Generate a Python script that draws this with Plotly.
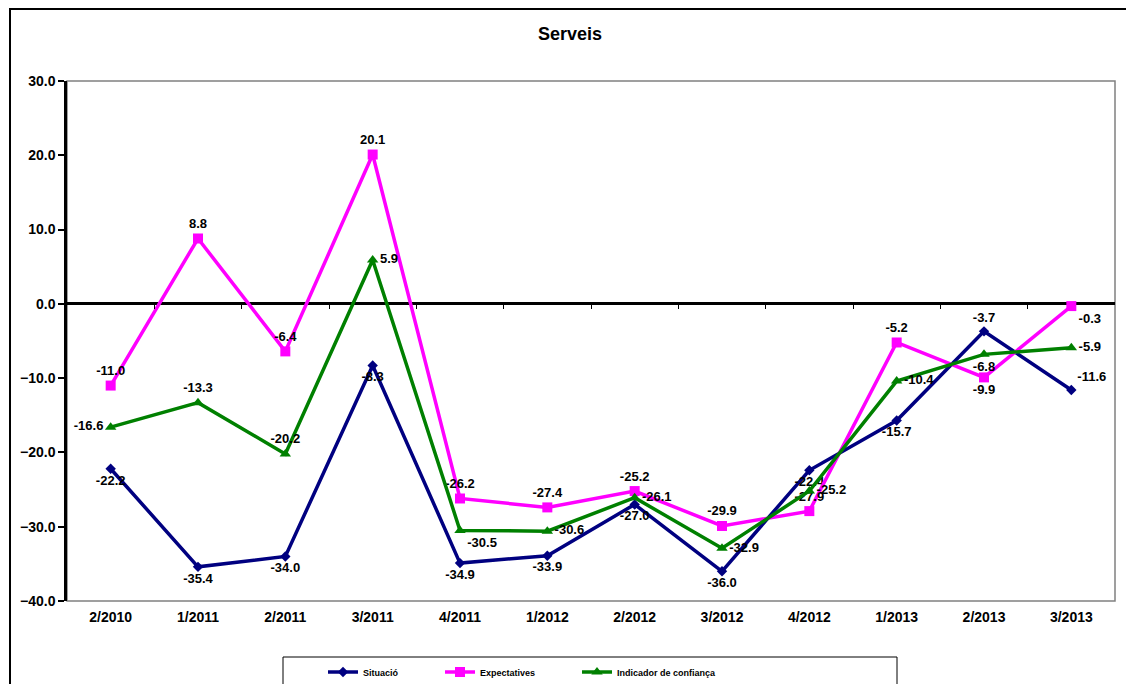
import plotly.graph_objects as go

categories = ["2/2010", "1/2011", "2/2011", "3/2011", "4/2011", "1/2012",
              "2/2012", "3/2012", "4/2012", "1/2013", "2/2013", "3/2013"]
situacio = [-22.2, -35.4, -34.0, -8.3, -34.9, -33.9, -27.0, -36.0, -22.4, -15.7, -3.7, -11.6]
expectatives = [-11.0, 8.8, -6.4, 20.1, -26.2, -27.4, -25.2, -29.9, -27.9, -5.2, -9.9, -0.3]
indicador = [-16.6, -13.3, -20.2, 5.9, -30.5, -30.6, -26.1, -32.9, -25.2, -10.4, -6.8, -5.9]
y_ticks = [30, 20, 10, 0, -10, -20, -30, -40]

pos_sit = ["bottom center"] * 10 + ["top center", "top right"]
pos_exp = ["top center"] * 10 + ["bottom center", "bottom right"]
pos_ind = ["middle left", "top center", "top center", "middle right", "bottom right",
           "middle right", "middle right", "middle right", "middle right", "middle right",
           "bottom center", "middle right"]

FONT = "Liberation Sans"
lab_font = dict(family=FONT, size=13, color="black", weight="bold")

fig = go.Figure()
fig.add_trace(go.Scatter(
    x=categories, y=situacio, name="Situació", mode="lines+markers+text",
    line=dict(color="#000080", width=3.5),
    marker=dict(symbol="diamond", size=8, color="#000080"),
    text=[f"{v:.1f}" for v in situacio], textposition=pos_sit, textfont=lab_font,
    legend="legend", cliponaxis=False))
fig.add_trace(go.Scatter(
    x=categories, y=expectatives, name="Expectatives", mode="lines+markers+text",
    line=dict(color="#FF00FF", width=3.5),
    marker=dict(symbol="square", size=10, color="#FF00FF"),
    text=[f"{v:.1f}" for v in expectatives], textposition=pos_exp, textfont=lab_font,
    legend="legend2", cliponaxis=False))
fig.add_trace(go.Scatter(
    x=categories, y=indicador, name="Indicador de confiança", mode="lines+markers+text",
    line=dict(color="#008000", width=3.5),
    marker=dict(symbol="triangle-up", size=10, color="#008000"),
    text=[f"{v:.1f}" for v in indicador], textposition=pos_ind, textfont=lab_font,
    legend="legend3", cliponaxis=False))

# page body has an 8px margin: figure is drawn 8px right/down from the window corner
OFF = 8
W, H = 1134 - OFF, 684 - OFF
L, R, T, B = 67 - OFF, 1115 - OFF, 81 - OFF, 601 - OFF
pw, ph = R - L, B - T

def px(x):
    return (x - OFF - L) / pw

def py(y):
    return (B - (y - OFF)) / ph

def cx(x):
    return (x - OFF) / W

def cy(y):
    return 1 - (y - OFF) / H

leg_common = dict(orientation="h", yanchor="middle", xanchor="left",
                  xref="container", yref="container",
                  font=dict(family=FONT, size=9, color="black", weight="bold"),
                  bgcolor="rgba(0,0,0,0)", borderwidth=0, itemwidth=30)

fig.update_layout(
    width=W, height=H,
    margin=dict(l=L, r=W - R, t=T, b=H - B, autoexpand=False),
    paper_bgcolor="white", plot_bgcolor="white",
    font=dict(family=FONT, color="black"),
    showlegend=True,
    legend=dict(x=cx(323), y=cy(672), **leg_common),
    legend2=dict(x=cx(440), y=cy(672), **leg_common),
    legend3=dict(x=cx(577), y=cy(672), **leg_common),
    xaxis=dict(type="category", categoryorder="array", categoryarray=categories,
               range=[-0.5, len(categories) - 0.5], showline=False, ticks="",
               ticklabelstandoff=6,
               showgrid=False, zeroline=False,
               tickfont=dict(family=FONT, size=14, color="black", weight="bold")),
    xaxis2=dict(overlaying="x", anchor="free", position=py(303), side="bottom",
                range=[-0.5, len(categories) - 0.5],
                tickvals=[i + 0.5 for i in range(len(categories) - 1)],
                ticks="outside", ticklen=5, tickwidth=1, tickcolor="black",
                showticklabels=False, showline=False, showgrid=False, zeroline=False),
    yaxis=dict(range=[-40, 30], tickvals=y_ticks, tickformat=".1f",
               ticks="outside", ticklen=6, tickwidth=1.5, tickcolor="black",
               showline=True, linecolor="black", linewidth=2.5,
               showgrid=False, zeroline=True, zerolinecolor="black", zerolinewidth=2.5,
               tickfont=dict(family=FONT, size=14, color="black", weight="bold")),
    annotations=[dict(text="<b>Serveis</b>", xref="paper", yref="paper",
                      x=px(570), y=py(34), xanchor="center", yanchor="middle",
                      showarrow=False,
                      font=dict(family=FONT, size=18, color="black"))],
    shapes=[
        dict(type="rect", xref="paper", yref="paper", x0=0, x1=1, y0=0, y1=1,
             line=dict(color="#808080", width=1.5), layer="below"),
        dict(type="rect", xref="paper", yref="paper", x0=px(10), x1=px(1130),
             y0=py(720), y1=py(9), line=dict(color="black", width=2)),
        dict(type="rect", xref="paper", yref="paper", x0=px(283), x1=px(897),
             y0=py(720), y1=py(657), line=dict(color="black", width=1)),
    ],
)
# invisible helper trace so the boundary-tick axis is drawn
fig.add_trace(go.Scatter(x=[0], y=[0], xaxis="x2", mode="markers",
                         marker=dict(opacity=0), showlegend=False, hoverinfo="skip"))

fig.write_html("out.html")
